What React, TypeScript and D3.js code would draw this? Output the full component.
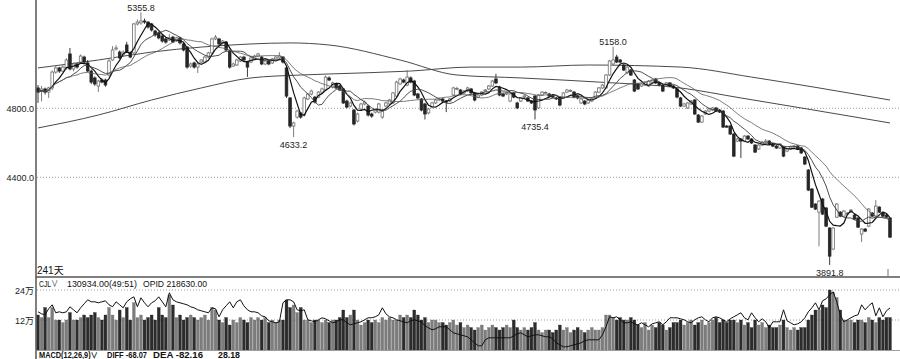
import * as d3 from 'd3';
import React from 'react';

const W = 900;
const H = 359;

// daily bars: [open, high, low, close]
const ohlc: number[][] = [
  [4918, 4935, 4831, 4894], [4900, 4930, 4840, 4912], [4912, 4920, 4880, 4894], [4894, 4925, 4860, 4918], [4918, 5020, 4905, 5010],
  [5010, 5045, 5000, 5034], [5034, 5040, 5005, 5016], [5016, 5050, 5010, 5039], [5034, 5090, 5025, 5080], [5115, 5150, 5020, 5028],
  [5028, 5065, 5015, 5057], [5057, 5062, 5030, 5039], [5068, 5112, 5060, 5103], [5097, 5105, 5060, 5068], [5063, 5080, 5010, 5016],
  [5016, 5025, 4940, 4952], [4976, 4985, 4930, 4941], [4929, 4965, 4895, 4958], [4964, 4975, 4945, 4952], [4964, 4972, 4925, 4935],
  [4993, 5085, 4985, 5074], [5080, 5160, 5075, 5138], [5144, 5165, 5135, 5150], [5126, 5135, 5085, 5092], [5109, 5135, 5100, 5126],
  [5167, 5185, 5120, 5126], [5121, 5130, 5090, 5097], [5121, 5295, 5110, 5289], [5289, 5315, 5280, 5300], [5295, 5355.8, 5285, 5306],
  [5306, 5320, 5290, 5300], [5300, 5305, 5262, 5271], [5289, 5295, 5245, 5254], [5248, 5255, 5215, 5225], [5237, 5245, 5200, 5208],
  [5219, 5228, 5180, 5190], [5202, 5210, 5175, 5184], [5196, 5230, 5190, 5208], [5213, 5220, 5178, 5184], [5190, 5215, 5185, 5208],
  [5208, 5215, 5170, 5179], [5173, 5180, 5130, 5138], [5155, 5160, 5030, 5039], [5045, 5065, 5035, 5057], [5063, 5070, 5030, 5039],
  [5039, 5062, 5005, 5057], [5068, 5085, 5060, 5080], [5068, 5105, 5060, 5097], [5097, 5128, 5090, 5121], [5121, 5210, 5115, 5202],
  [5202, 5225, 5195, 5213], [5202, 5208, 5165, 5173], [5179, 5196, 5170, 5190], [5184, 5190, 5130, 5138], [5132, 5140, 5030, 5039],
  [5045, 5065, 5040, 5057], [5051, 5088, 5045, 5080], [5074, 5103, 5068, 5097], [5097, 5105, 5075, 5080], [5068, 5075, 4982, 5039],
  [5068, 5098, 5062, 5092], [5086, 5110, 5080, 5103], [5103, 5122, 5097, 5115], [5097, 5103, 5050, 5057], [5057, 5080, 5050, 5074],
  [5074, 5080, 5050, 5057], [5063, 5092, 5057, 5086], [5086, 5105, 5080, 5097], [5092, 5125, 5086, 5103], [5097, 5103, 5060, 5068],
  [5034, 5040, 4860, 4871], [4860, 4865, 4685, 4697], [4697, 4722, 4633.2, 4715], [4749, 4792, 4740, 4784], [4773, 4780, 4740, 4749],
  [4761, 4868, 4752, 4860], [4854, 4890, 4848, 4883], [4883, 4908, 4875, 4900], [4865, 4872, 4828, 4836], [4865, 4900, 4858, 4894],
  [4894, 4920, 4888, 4912], [4906, 4990, 4900, 4981], [4976, 4985, 4958, 4964], [4923, 4955, 4915, 4947], [4941, 4948, 4912, 4918],
  [4929, 4935, 4900, 4906], [4912, 4918, 4825, 4831], [4842, 4850, 4800, 4807], [4813, 4838, 4805, 4831], [4790, 4796, 4700, 4709],
  [4726, 4775, 4718, 4767], [4796, 4832, 4790, 4825], [4825, 4845, 4818, 4836], [4813, 4820, 4752, 4761], [4767, 4775, 4745, 4755],
  [4778, 4798, 4770, 4790], [4778, 4832, 4770, 4825], [4749, 4796, 4740, 4790], [4813, 4838, 4806, 4831], [4825, 4855, 4818, 4848],
  [4831, 4895, 4825, 4889], [4871, 4960, 4865, 4952], [4941, 4978, 4935, 4970], [4964, 4972, 4945, 4952], [4935, 5022, 4928, 4981],
  [4976, 4985, 4945, 4952], [4958, 4965, 4870, 4877], [4883, 4890, 4852, 4860], [4854, 4860, 4782, 4790], [4825, 4832, 4735, 4767],
  [4773, 4802, 4765, 4796], [4807, 4838, 4800, 4831], [4831, 4855, 4825, 4848], [4848, 4862, 4842, 4854], [4854, 4860, 4835, 4842],
  [4842, 4848, 4778, 4836], [4842, 4860, 4835, 4854], [4877, 4925, 4870, 4918], [4912, 4925, 4905, 4915], [4906, 4912, 4876, 4883],
  [4889, 4906, 4882, 4900], [4900, 4925, 4894, 4918], [4912, 4918, 4882, 4889], [4889, 4895, 4840, 4848], [4865, 4883, 4858, 4877],
  [4877, 4900, 4870, 4894], [4900, 4912, 4894, 4906], [4912, 4935, 4906, 4929], [4929, 4965, 4923, 4958], [4970, 5000, 4940, 4947],
  [4923, 4930, 4870, 4877], [4883, 4890, 4865, 4871], [4883, 4895, 4876, 4889], [4842, 4890, 4835, 4883], [4889, 4895, 4858, 4865],
  [4831, 4838, 4795, 4802], [4842, 4866, 4836, 4860], [4865, 4878, 4858, 4871], [4860, 4866, 4836, 4842], [4842, 4848, 4825, 4831],
  [4871, 4878, 4735.4, 4790], [4802, 4883, 4796, 4877], [4877, 4900, 4871, 4894], [4889, 4898, 4882, 4892], [4883, 4889, 4865, 4871],
  [4877, 4883, 4858, 4865], [4860, 4866, 4848, 4854], [4865, 4871, 4812, 4819], [4865, 4895, 4858, 4889], [4894, 4912, 4888, 4906],
  [4900, 4910, 4894, 4903], [4894, 4900, 4858, 4865], [4871, 4877, 4852, 4860], [4831, 4860, 4825, 4854], [4842, 4848, 4818, 4825],
  [4831, 4854, 4825, 4848], [4842, 4860, 4836, 4854], [4860, 4900, 4854, 4894], [4894, 4923, 4888, 4918], [4918, 4941, 4912, 4935],
  [4918, 4999, 4912, 4993], [4993, 5080, 4987, 5074], [5057, 5158, 5050, 5080], [5097, 5110, 5062, 5068], [5080, 5086, 5062, 5068],
  [5051, 5057, 5016, 5022], [5005, 5045, 4999, 5039], [5022, 5028, 4987, 4993], [4964, 4970, 4894, 4900], [4941, 4947, 4906, 4912],
  [4929, 4947, 4923, 4941], [4935, 4958, 4929, 4952], [4929, 4964, 4923, 4958], [4952, 4970, 4947, 4964], [4970, 4976, 4941, 4947],
  [4947, 4952, 4929, 4935], [4935, 4941, 4894, 4900], [4929, 4952, 4923, 4947], [4947, 4952, 4923, 4929], [4929, 4935, 4912, 4918],
  [4912, 4918, 4858, 4865], [4860, 4866, 4807, 4813], [4813, 4831, 4807, 4825], [4802, 4836, 4796, 4831], [4825, 4848, 4819, 4842],
  [4848, 4854, 4761, 4767], [4761, 4767, 4715, 4720], [4720, 4761, 4715, 4755], [4767, 4790, 4761, 4784], [4784, 4802, 4778, 4796],
  [4790, 4807, 4784, 4802], [4802, 4807, 4778, 4784], [4790, 4796, 4773, 4778], [4784, 4790, 4686, 4691], [4697, 4703, 4686, 4691],
  [4697, 4703, 4645, 4651], [4651, 4657, 4517, 4523], [4610, 4628, 4604, 4622], [4622, 4628, 4512, 4610], [4610, 4645, 4604, 4639],
  [4639, 4645, 4616, 4622], [4622, 4628, 4593, 4599], [4587, 4593, 4541, 4546], [4564, 4593, 4558, 4587], [4587, 4610, 4581, 4604],
  [4604, 4622, 4599, 4610], [4610, 4616, 4587, 4593], [4593, 4599, 4575, 4581], [4581, 4587, 4564, 4570], [4570, 4599, 4564, 4593],
  [4575, 4581, 4517, 4523], [4552, 4570, 4546, 4564], [4564, 4581, 4558, 4575], [4575, 4587, 4570, 4581], [4581, 4587, 4558, 4564],
  [4570, 4575, 4535, 4541], [4517, 4523, 4471, 4477], [4442, 4448, 4320, 4326], [4332, 4338, 4222, 4227], [4245, 4250, 4210, 4216],
  [4198, 4268, 4000, 4262], [4274, 4280, 4181, 4187], [4222, 4228, 4111, 4117], [4106, 4111, 3891.8, 3943], [3984, 4111, 3978, 4106],
  [4169, 4251, 4164, 4245], [4198, 4204, 4169, 4175], [4175, 4210, 4169, 4204], [4187, 4198, 4181, 4193], [4198, 4216, 4193, 4210],
  [4181, 4187, 4152, 4158], [4164, 4169, 4106, 4111], [4071, 4106, 4025, 4100], [4100, 4106, 4082, 4088], [4117, 4222, 4111, 4216],
  [4193, 4198, 4169, 4175], [4175, 4268, 4169, 4233], [4227, 4233, 4193, 4198], [4193, 4198, 4169, 4175], [4181, 4187, 4164, 4169],
  [4164, 4169, 4048, 4053],
];

// CJL, in 万 lots
const volume = [
  14, 13, 17, 13, 17, 12, 12, 11, 12, 15,
  12, 12, 13, 14, 13, 14, 15, 13, 12, 14,
  17, 14, 12, 16, 13, 17, 12, 19, 13, 14,
  12, 13, 14, 12, 17, 14, 13, 22, 18, 13,
  14, 12, 13, 14, 13, 12, 13, 14, 12, 17,
  16, 12, 11, 13, 10, 12, 11, 13, 12, 11,
  13, 12, 13, 12, 13, 11, 12, 11, 12, 12,
  20, 17, 18, 15, 17, 12, 12, 11, 12, 12,
  11, 12, 11, 12, 12, 13, 16, 13, 14, 16,
  12, 10, 11, 12, 11, 12, 11, 13, 12, 13,
  12, 12, 14, 13, 14, 13, 16, 14, 12, 13,
  11, 12, 12, 11, 11, 10, 11, 12, 10, 11,
  9, 10, 9, 8, 9, 10, 8, 9, 10, 9,
  8, 9, 10, 9, 12, 9, 8, 9, 8, 9,
  11, 8, 7, 8, 8, 7, 8, 10, 8, 9,
  7, 8, 9, 8, 7, 8, 9, 8, 8, 9,
  14, 14, 13, 12, 13, 12, 12, 13, 12, 10,
  9, 11, 8, 10, 9, 11, 10, 8, 9, 11,
  11, 12, 10, 11, 12, 10, 11, 12, 10, 11,
  12, 13, 11, 12, 11, 12, 12, 11, 12, 10,
  11, 9, 12, 10, 11, 9, 10, 9, 9, 10,
  12, 9, 8, 9, 8, 9, 9, 12, 14, 16,
  16, 18, 17, 24, 23, 21, 16, 12, 12, 12,
  11, 12, 12, 11, 13, 12, 11, 13, 12, 13, 13,
];

// OPID (open interest), in 万
const opid = [
  21.1, 20.7, 20.5, 21.7, 22.5, 20.9, 21.1, 20.9, 21.1, 22.1,
  21.5, 20.9, 21.9, 22.7, 23.5, 23.1, 23.1, 22.9, 23.1, 23.3,
  22.5, 22.1, 23.1, 22.5, 21.9, 23.1, 23.7, 24.1, 22.1, 23.9,
  22.9, 22.1, 22.9, 23.3, 24.1, 23.1, 22.1, 24.9, 23.5, 23.1,
  22.9, 22.7, 22.5, 22.1, 21.9, 21.5, 21.3, 21.1, 20.9, 21.9,
  21.7, 20.1, 21.5, 22.3, 23.1, 21.9, 23.1, 23.5, 22.3, 21.5,
  21.1, 21.1, 20.9, 20.3, 20.1, 19.3, 19.1, 18.9, 19.1, 22.9,
  23.5, 23.5, 23.1, 21.5, 21.3, 21.5, 19.5, 19.3, 19.1, 19.5,
  19.9, 19.7, 19.3, 18.9, 19.1, 19.5, 19.5, 18.9, 18.5, 18.7,
  18.9, 19.1, 19.5, 19.9, 19.9, 20.1, 20.5, 21.9, 20.7, 20.1,
  19.9, 19.5, 19.3, 19.1, 18.9, 19.3, 19.5, 19.3, 19.1, 18.3,
  17.9, 17.5, 17.7, 18.1, 18.1, 18.1, 17.5, 16.9, 16.7, 16.5,
  16.3, 16.1, 15.5, 14.9, 14.3, 14.3, 15.5, 15.9, 15.9, 15.9,
  15.9, 15.9, 15.9, 15.9, 16.3, 16.7, 16.9, 16.5, 16.1, 16.3,
  16.5, 16.5, 16.3, 16.1, 16.1, 15.7, 14.9, 14.5, 14.1, 14.1,
  14.3, 14.5, 14.7, 14.9, 15.3, 15.5, 15.5, 15.5, 15.5, 16.5,
  18.1, 20.1, 19.9, 20.1, 19.5, 18.9, 18.9, 19.1, 18.7, 18.5,
  18.9, 18.5, 18.1, 18.7, 18.9, 19.1, 18.5, 19.1, 19.9, 19.9,
  19.9, 19.7, 19.5, 19.1, 18.9, 19.5, 19.9, 20.1, 19.5, 19.1,
  19.9, 20.1, 19.9, 19.5, 19.1, 19.7, 20.1, 20.5, 20.9, 19.9,
  19.5, 20.9, 19.9, 19.1, 19.7, 19.1, 17.9, 19.1, 19.1, 19.1,
  21.5, 19.3, 18.9, 18.5, 18.7, 19.1, 19.9, 21.1, 21.9, 22.9,
  21.5, 23.3, 23.7, 24.5, 25.1, 23.1, 20.5, 19.1, 19.5, 19.9,
  20.3, 20.5, 22.5, 21.5, 22.3, 22.9, 20.3, 21.9, 20.1, 21.3, 21.863,
];

// long moving averages: [day, price]
const longMaA = [
  [0, 4686], [17, 4761], [32, 4848], [46, 4918], [60, 4976], [74, 4993], [82, 4999], [105, 5016],
  [122, 5039], [136, 5039], [155, 5051], [181, 5039], [201, 4981], [220, 4918], [240, 4848],
];
const longMaB = [
  [0, 5034], [17, 5080], [32, 5126], [46, 5155], [60, 5173], [71, 5179], [82, 5167], [102, 5080],
  [118, 4993], [136, 4976], [158, 4952], [181, 4918], [198, 4860], [215, 4802], [240, 4715],
];

const shortMa = [
  { n: 5, color: '#111', width: 1.2 },
  { n: 10, color: '#3a3a3a', width: 0.9 },
  { n: 20, color: '#5a5a5a', width: 0.8 },
];

const priceTicks = [4800, 4400];
const volTicks = [24, 12];

// marked extremes: day index and which end
const extremes = [
  { i: 29, kind: 'high' },
  { i: 72, kind: 'low' },
  { i: 140, kind: 'low' },
  { i: 162, kind: 'high' },
  { i: 223, kind: 'low' },
];

// panel header pieces (text, left edge, width)
const cjlHeader = [
  { t: 'CJL∨', x: 39, w: 19 },
  { t: '130934.00(49:51)', x: 67, w: 70 },
  { t: 'OPID 218630.00', x: 143, w: 64 },
];
const macdHeader = [
  { t: 'MACD(12,26,9)∨', x: 39, w: 59 },
  { t: 'DIFF -68.07', x: 107, w: 40 },
  { t: 'DEA -82.16', x: 153, w: 50 },
  { t: '28.18', x: 218, w: 22 },
];

const FONT = '"Liberation Sans", Arial, "Noto Sans CJK SC", sans-serif';

export default function App() {
  const x = d3.scaleLinear().domain([0, ohlc.length - 1]).range([38, 890]);
  const yP = d3.scaleLinear().domain([4400, 4800]).range([177.3, 108.3]);
  const yV = d3.scaleLinear().domain([0, 24]).range([350, 290]);
  const yO = d3.scaleLinear().domain([14, 26]).range([347.3, 287.3]);

  const closes = ohlc.map(d => d[3]);
  const ma = (n: number) =>
    closes.map((_, i) => d3.mean(closes.slice(Math.max(0, i - n + 1), i + 1)) as number);

  const priceLine = d3.line<number>().x((_, i) => x(i)).y(d => yP(d));
  const longLine = d3.line<number[]>().x(d => x(d[0])).y(d => yP(d[1])).curve(d3.curveMonotoneX);
  const opidLine = d3.line<number>().x((_, i) => x(i)).y(d => yO(d));

  const bodyW = 2.6;
  const barW = 2.9;

  return (
    <svg width={W} height={H} style={{ position: 'absolute', left: 0, top: 0, background: '#fff' }}
      fontFamily={FONT}>
      <rect width={W} height={H} fill="#fff" />

      {/* grid */}
      {priceTicks.map(t => (
        <g key={t}>
          <line x1={37} x2={W} y1={yP(t)} y2={yP(t)} stroke="#9a9a9a" strokeDasharray="1,2" />
          <text x={34} y={yP(t) + 3.5} fontSize={9} textAnchor="end" fill="#222">{t.toFixed(1)}</text>
        </g>
      ))}
      {volTicks.map(t => (
        <g key={t}>
          <line x1={37} x2={W} y1={yV(t)} y2={yV(t)} stroke="#9a9a9a" strokeDasharray="1,2" />
          <text x={34} y={yV(t) + 3.5} fontSize={9} textAnchor="end" fill="#222">{t}万</text>
        </g>
      ))}

      {/* long MAs */}
      <path d={longLine(longMaA) || ''} fill="none" stroke="#4a4a4a" strokeWidth={1} />
      <path d={longLine(longMaB) || ''} fill="none" stroke="#4a4a4a" strokeWidth={1} />

      {/* candles */}
      {ohlc.map(([o, h, l, c], i) => {
        const up = c >= o;
        const cx = x(i);
        const top = yP(Math.max(o, c));
        const bot = yP(Math.min(o, c));
        const col = up ? '#6e6e6e' : '#262626';
        return (
          <g key={i}>
            <line x1={cx} x2={cx} y1={yP(h)} y2={yP(l)} stroke={col} strokeWidth={0.9} />
            <rect x={cx - bodyW / 2} y={top} width={bodyW} height={Math.max(0.8, bot - top)}
              fill={up ? '#fff' : '#262626'} stroke={col} strokeWidth={0.8} />
          </g>
        );
      })}

      {/* short MAs */}
      {shortMa.map(m => (
        <path key={m.n} d={priceLine(ma(m.n)) || ''} fill="none" stroke={m.color} strokeWidth={m.width} />
      ))}

      {/* extreme labels */}
      {extremes.map(e => {
        const v = e.kind === 'high' ? ohlc[e.i][1] : ohlc[e.i][2];
        const y = e.kind === 'high' ? yP(v) - 1.5 : yP(v) + 11;
        return (
          <text key={e.i} x={x(e.i)} y={y} fontSize={9} textAnchor="middle" fill="#222">{v.toFixed(1)}</text>
        );
      })}

      <text x={37} y={274} fontSize={10} fill="#111">241天</text>

      {/* volume */}
      {volume.map((v, i) => {
        const up = closes[i] >= ohlc[i][0];
        return (
          <rect key={i} x={x(i) - barW / 2} y={yV(v)} width={barW} height={yV(0) - yV(v)}
            fill={up ? '#7c7c7c' : '#2c2c2c'} stroke={up ? '#7c7c7c' : '#2c2c2c'} strokeWidth={0.3} />
        );
      })}
      <path d={opidLine(opid) || ''} fill="none" stroke="#111" strokeWidth={1} />

      {/* frame */}
      <line x1={36} x2={36} y1={0} y2={H} stroke="#555" strokeWidth={1.5} />
      <line x1={36} x2={W} y1={277} y2={277} stroke="#555" strokeWidth={1.5} />
      <line x1={36} x2={W} y1={350.5} y2={350.5} stroke="#888" strokeWidth={0.8} />
      <line x1={888} x2={888} y1={269} y2={277} stroke="#777" strokeWidth={1} />

      {cjlHeader.map(h => (
        <text key={h.t} x={h.x} y={287} fontSize={9} fill="#111"
          textLength={h.w} lengthAdjust="spacingAndGlyphs">{h.t}</text>
      ))}
      {macdHeader.map(h => (
        <text key={h.t} x={h.x} y={358} fontSize={8.5} fill="#111" fontWeight="bold"
          textLength={h.w} lengthAdjust="spacingAndGlyphs">{h.t}</text>
      ))}
    </svg>
  );
}
